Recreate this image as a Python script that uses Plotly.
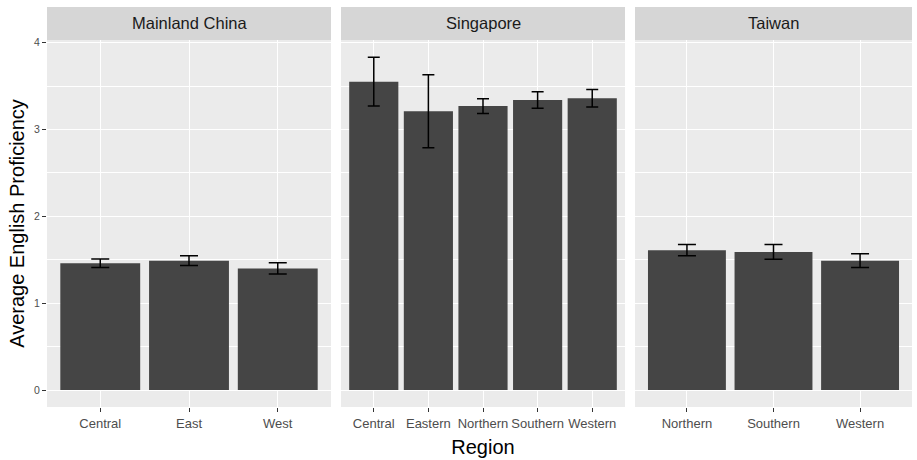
import plotly.graph_objects as go

countries = ["Mainland China", "Singapore", "Taiwan"]
regions = {
    "Mainland China": ["Central", "East", "West"],
    "Singapore": ["Central", "Eastern", "Northern", "Southern", "Western"],
    "Taiwan": ["Northern", "Southern", "Western"],
}
means = {
    "Mainland China": [1.46, 1.49, 1.40],
    "Singapore": [3.55, 3.21, 3.27, 3.34, 3.36],
    "Taiwan": [1.61, 1.59, 1.49],
}
errors = {
    "Mainland China": [0.05, 0.055, 0.065],
    "Singapore": [0.28, 0.42, 0.085, 0.095, 0.10],
    "Taiwan": [0.065, 0.085, 0.08],
}
y_ticks = [0, 1, 2, 3, 4]

FONT = "Liberation Sans, Arial, sans-serif"
BAR = "#454545"
PANEL_BG = "#EBEBEB"
STRIP_BG = "#D6D6D6"

W, H = 917, 460
ML, MR, MT, MB = 47, 5, 40, 53
pw = W - ML - MR
ph = H - MT - MB
panels_px = [(47, 331), (341, 625), (635, 912)]
domains = [((a - ML) / pw, (b - ML) / pw) for a, b in panels_px]
cap_px = [9, 6, 9]

fig = go.Figure()
for i, c in enumerate(countries):
    ax = "" if i == 0 else str(i + 1)
    fig.add_trace(go.Bar(
        x=regions[c], y=means[c],
        error_y=dict(type="data", array=errors[c], visible=True,
                     color="black", thickness=1.5, width=cap_px[i]),
        marker=dict(color=BAR, line=dict(width=0)),
        width=0.9,
        xaxis="x" + ax, yaxis="y" + ax,
        showlegend=False, hoverinfo="x+y",
    ))
    n = len(regions[c])
    xa = dict(
        domain=list(domains[i]), anchor="y" + ax,
        type="category", range=[-0.6, n - 0.4],
        showgrid=True, gridcolor="white", gridwidth=1.1,
        ticks="outside", ticklen=4, tickcolor="#333333", tickwidth=1,
        tickfont=dict(family=FONT, size=13, color="#4D4D4D"),
        showline=False, zeroline=False,
    )
    ya = dict(
        anchor="x" + ax, domain=[0, 1],
        range=[-0.195, 4.03],
        tickvals=y_ticks, ticktext=[str(v) for v in y_ticks],
        showgrid=True, gridcolor="white", gridwidth=1.1,
        minor=dict(tickvals=[0.5, 1.5, 2.5, 3.5], showgrid=True,
                   gridcolor="white", gridwidth=0.5, ticks=""),
        zeroline=False, showline=False,
        showticklabels=(i == 0),
        ticks="outside" if i == 0 else "", ticklen=4,
        tickcolor="#333333", tickwidth=1,
        tickfont=dict(family=FONT, size=10.5, color="#4D4D4D"),
    )
    if i == 0:
        ya["title"] = dict(text="Average English Proficiency",
                           font=dict(family=FONT, size=20, color="black"),
                           standoff=4)
    if i == 1:
        xa["title"] = dict(text="Region",
                           font=dict(family=FONT, size=20, color="black"),
                           standoff=10)
    fig.update_layout(**{"xaxis" + ax: xa, "yaxis" + ax: ya})

    # panel background
    fig.add_shape(type="rect", xref="paper", yref="paper",
                  x0=domains[i][0], x1=domains[i][1], y0=0, y1=1,
                  fillcolor=PANEL_BG, line=dict(width=0), layer="below")
    # strip
    fig.add_shape(type="rect", xref="paper", yref="paper",
                  x0=domains[i][0], x1=domains[i][1],
                  y0=1, y1=1 + 33 / ph,
                  fillcolor=STRIP_BG, line=dict(width=0))
    fig.add_annotation(text=c, xref="paper", yref="paper",
                       x=(domains[i][0] + domains[i][1]) / 2,
                       y=1 + 16.5 / ph, showarrow=False,
                       xanchor="center", yanchor="middle",
                       font=dict(family=FONT, size=16.5, color="#1A1A1A"))

fig.update_layout(
    width=W, height=H,
    margin=dict(l=ML, r=MR, t=MT, b=MB, autoexpand=False),
    paper_bgcolor="white", plot_bgcolor="rgba(0,0,0,0)",
    font=dict(family=FONT),
    bargap=0.1,
)

fig.write_html("out.html",
               config={"displayModeBar": False},
               post_script="document.body.style.margin='0';document.body.style.overflow='hidden';")
